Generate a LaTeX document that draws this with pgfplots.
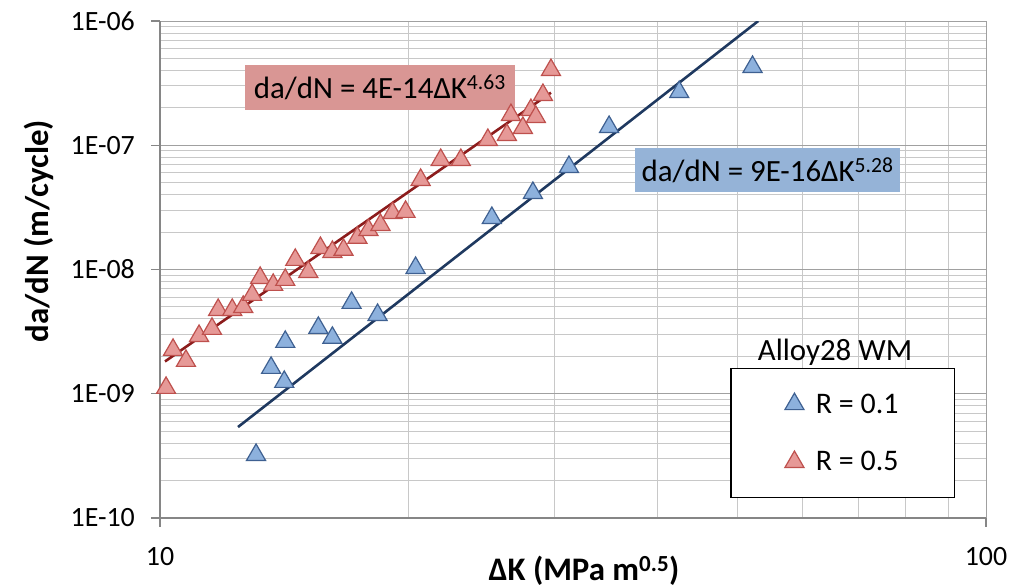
\documentclass[border=0pt]{standalone}
\usepackage{fontspec}
\setmainfont{Carlito}
\usepackage{pgfplots}
\pgfplotsset{compat=1.18}

\definecolor{redfill}{RGB}{230,153,151}
\definecolor{rededge}{RGB}{190,80,77}
\definecolor{redline}{RGB}{140,28,28}
\definecolor{bluefill}{RGB}{141,177,221}
\definecolor{blueedge}{RGB}{62,96,145}
\definecolor{blueline}{RGB}{31,57,96}
\definecolor{redbox}{RGB}{217,150,148}
\definecolor{bluebox}{RGB}{149,179,215}
\definecolor{gridmaj}{RGB}{160,160,160}
\definecolor{gridmin}{RGB}{200,200,200}
\definecolor{axisgray}{RGB}{134,134,134}

\begin{document}
\begin{tikzpicture}
\useasboundingbox (-160bp,-70bp) rectangle (853bp,518bp);
\begin{axis}[
  at={(0,0)}, anchor=south west,
  scale only axis, width=826bp, height=497bp,
  xmode=log, ymode=log,
  xmin=10, xmax=100, ymin=1e-10, ymax=1e-6,
  axis lines=left,
  axis line style={-, draw=axisgray, line width=1.2bp},
  xtick={10,100}, xticklabels={10,100},
  ytick={1e-10,1e-9,1e-8,1e-7,1e-6},
  yticklabels={1E-10,1E-09,1E-08,1E-07,1E-06},
  minor xtick={20,30,40,50,60,70,80,90},
  minor ytick={2e-10,3e-10,4e-10,5e-10,6e-10,7e-10,8e-10,9e-10,
               2e-9,3e-9,4e-9,5e-9,6e-9,7e-9,8e-9,9e-9,
               2e-8,3e-8,4e-8,5e-8,6e-8,7e-8,8e-8,9e-8,
               2e-7,3e-7,4e-7,5e-7,6e-7,7e-7,8e-7,9e-7},
  grid=both,
  major grid style={draw=gridmaj, line width=1bp},
  minor grid style={draw=gridmin, line width=1bp},
  tick style={draw=axisgray, line width=1.2bp},
  major tick length=9bp, minor tick length=0pt, tick align=outside,
  tick label style={font=\fontsize{28}{34}\selectfont, text=black},
  yticklabel style={anchor=east, inner xsep=0pt, xshift=-16bp},
  xticklabel style={anchor=north, inner ysep=0pt, yshift=-20bp},
  xlabel={\textbf{ΔK (MPa m\textsuperscript{0.5})}},
  ylabel={\textbf{da/dN (m/cycle)}},
  xlabel style={font=\fontsize{33}{38}\selectfont, at={(axis description cs:0.5,0)}, anchor=base, xshift=11bp, yshift=-62bp},
  ylabel style={font=\fontsize{33}{38}\selectfont, at={(axis description cs:0,0.577)}, anchor=center, yshift=121bp},
  legend style={at={(0.9625,0.0402)}, anchor=south east, draw=black, line width=1.2bp, fill=white,
    font=\fontsize{30}{36}\selectfont, inner xsep=54bp, inner ysep=23bp, row sep=33bp},
  legend image code/.code={\draw[#1] plot coordinates {(11bp,0bp)};},
  legend cell align=left,
]
\addplot[only marks, mark=triangle*, mark size=11bp, mark options={fill=bluefill, draw=blueedge, line width=1.2bp}]
 coordinates {
 (13.07,3.22e-10) (13.63,1.616e-9) (14.14,1.246e-9) (14.18,2.615e-9)
 (15.55,3.39e-9) (16.17,2.82e-9) (17.06,5.39e-9) (18.34,4.31e-9)
 (20.39,1.03e-8) (25.22,2.60e-8) (28.28,4.13e-8) (31.27,6.69e-8)
 (34.97,1.404e-7) (42.52,2.68e-7) (52.16,4.27e-7)
 };
\addlegendentry{\hspace{10bp}R = 0.1}
\addplot[only marks, mark=triangle*, mark size=11bp, mark options={fill=redfill, draw=rededge, line width=1.2bp}]
 coordinates {
 (10.17,1.115e-9) (10.37,2.255e-9) (10.75,1.84e-9) (11.15,2.92e-9)
 (11.56,3.33e-9) (11.76,4.73e-9) (12.23,4.73e-9) (12.61,5.00e-9)
 (12.93,6.25e-9) (13.22,8.56e-9) (13.71,7.52e-9) (14.18,8.25e-9)
 (14.58,1.195e-8) (15.12,9.56e-9) (15.64,1.49e-8) (16.17,1.385e-8)
 (16.68,1.44e-8) (17.34,1.80e-8) (17.88,2.08e-8) (18.49,2.285e-8)
 (19.12,2.85e-8) (19.83,2.91e-8) (20.68,5.26e-8) (21.87,7.61e-8)
 (23.13,7.61e-8) (24.94,1.103e-7) (26.30,1.21e-7) (26.60,1.75e-7)
 (27.50,1.378e-7) (28.12,1.92e-7) (28.51,1.69e-7) (29.08,2.54e-7)
 (29.74,4.03e-7)
 };
\addlegendentry{\hspace{10bp}R = 0.5}
\addplot[redline, line width=2.6bp, forget plot] coordinates {(10.14,1.82e-9) (29.74,2.65e-7)};
\addplot[blueline, line width=2.6bp, forget plot] coordinates {(12.43,5.4e-10) (53.0,1.0e-6)};

\node[fill=redbox, minimum width=270bp, minimum height=45bp, inner sep=0pt, font=\fontsize{31}{36}\selectfont]
  at (axis cs:18.46,2.92e-7) {da/dN = 4E-14ΔK\textsuperscript{4.63}};
\node[fill=bluebox, minimum width=265bp, minimum height=44bp, inner sep=0pt, font=\fontsize{31}{36}\selectfont]
  at (axis cs:54.4,6.32e-8) {da/dN = 9E-16ΔK\textsuperscript{5.28}};
\node[font=\fontsize{31}{36}\selectfont] at (axis cs:65.65,2.17e-9) {Alloy28 WM};
\end{axis}
\end{tikzpicture}
\end{document}
